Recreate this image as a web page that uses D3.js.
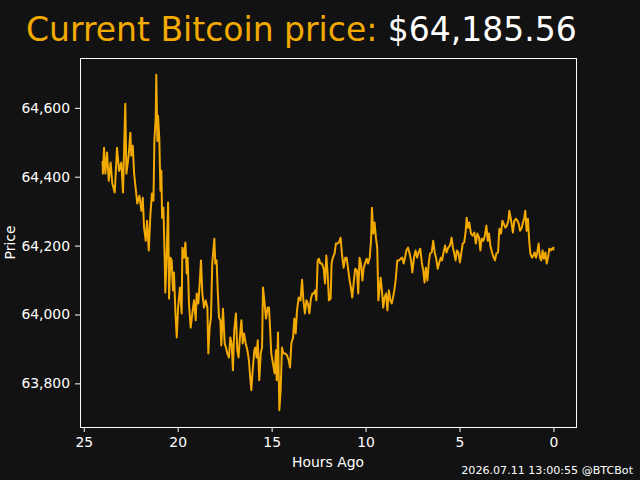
<!DOCTYPE html>
<html>
<head>
<meta charset="utf-8">
<script src="https://cdn.jsdelivr.net/npm/d3@7"></script>
<style>
  body{margin:0;background:#121212;}
  svg{display:block;font-family:"DejaVu Sans",sans-serif;}
</style>
</head>
<body>
<svg id="chart" width="640" height="480"></svg>
<script>
//data-------------------------------------------
var currentPrice='$64,185.56';
var stamp='2026.07.11 13:00:55 @BTCBot';
var xTicks=[25,20,15,10,5,0];
var yTicks=[63800,64000,64200,64400,64600];

var hoursAgo=[
  24.00,23.98,23.92,23.85,23.76,23.67,23.57,23.48,23.35,23.23,23.12,23.00,22.91,22.79,22.73,22.61,22.52,22.47,22.39,22.32,
  22.24,22.15,22.04,21.93,21.86,21.79,21.70,21.63,21.54,21.45,21.37,21.29,21.24,21.17,21.14,21.08,21.05,20.98,20.92,20.87,
  20.83,20.76,20.73,20.69,20.66,20.59,20.51,20.46,20.39,20.32,20.25,20.20,20.12,20.05,19.98,
  19.88,19.79,19.75,19.665,19.59,19.52,19.47,19.40,19.31,19.22,19.13,19.04,18.99,18.90,18.83,18.76,18.69,18.60,18.51,18.42,
  18.37,18.30,18.23,18.16,18.05,18.00,17.93,17.87,17.80,17.73,17.68,17.59,17.50,17.43,17.36,17.27,17.20,17.13,17.06,16.99,
  16.90,16.83,16.76,16.69,16.61,16.54,16.47,16.38,16.29,16.21,16.13,16.08,16.01,15.92,
  15.87,15.80,15.74,15.66,15.58,15.51,15.46,15.39,15.30,15.21,15.14,15.07,15.02,14.93,14.84,14.77,14.73,14.66,14.59,14.52,
  14.45,14.38,14.27,14.18,14.09,14.02,13.95,13.86,13.79,13.72,13.65,13.56,13.46,13.38,13.31,13.23,13.15,13.07,12.99,12.91,
  12.83,12.75,12.68,12.62,12.55,12.48,12.41,12.32,12.23,12.16,12.09,12.02,11.95,11.86,11.81,
  11.74,11.65,11.58,11.49,11.42,11.33,11.26,11.17,11.08,11.01,10.92,10.85,10.78,10.71,10.62,10.55,10.46,10.39,10.32,10.25,
  10.17,10.10,10.03,9.94,9.87,9.78,9.71,9.66,9.59,9.52,9.45,9.38,9.32,9.25,9.20,9.13,9.06,8.99,8.91,8.84,
  8.76,8.68,8.61,8.54,8.47,8.40,8.31,8.22,8.13,8.05,7.97,7.90,7.83,7.74,
  7.67,7.58,7.51,7.42,7.34,7.26,7.18,7.09,7.00,6.93,6.86,6.79,6.71,6.64,6.57,6.48,6.40,6.32,6.25,6.16,
  6.09,6.00,5.93,5.85,5.77,5.69,5.60,5.51,5.42,5.35,5.28,5.21,5.14,5.06,4.98,4.91,4.83,4.75,4.67,4.62,
  4.55,4.48,4.39,4.30,4.21,4.13,4.05,3.96,3.89,3.82,3.73,3.65,
  3.57,3.50,3.43,3.36,3.27,3.18,3.11,3.04,2.95,2.88,2.79,2.72,2.65,2.56,2.48,2.40,2.35,2.28,2.21,2.16,
  2.08,1.99,1.92,1.85,1.78,1.69,1.62,1.55,1.50,1.43,1.36,1.29,1.23,1.14,1.07,1.00,0.93,0.86,0.79,0.72,
  0.65,0.58,0.51,0.43,0.36,0.29,0.22,0.15,0.08,0.01,0.00
];
var prices=[
  64446,64409,64484,64409,64470,64388,64441,64380,64354,64484,64417,64441,64354,64612,64409,64461,64528,64461,64490,64409,
  64368,64322,64345,64301,64339,64252,64214,64272,64186,64293,64351,64330,64504,64571,64696,64504,64577,64513,64359,64417,
  64281,64310,64243,64157,64064,64165,64325,64046,64165,64157,64070,64122,64003,63933,64020,
  64078,64003,64194,64165,64209,64119,64165,64032,63962,64003,64041,63983,64061,64032,64090,64157,64061,64020,64041,64020,
  63887,63962,63991,64148,64220,64148,64157,64070,63991,63983,63910,64017,63916,63904,63887,63875,63933,63916,63838,63954,
  64003,63896,63875,63933,63983,63916,63945,63916,63896,63867,63809,63780,63838,63896,
  63904,63875,63925,63809,63887,63904,64078,64041,63988,64020,64020,63945,63887,63858,63829,63896,63809,63948,63722,63780,
  63904,63887,63887,63881,63867,63846,63916,63933,63988,63945,64012,64049,64041,64101,64041,64003,64041,64032,64003,64046,
  64061,64061,64070,64041,64157,64162,64148,64148,64133,64090,64171,64119,64041,64046,64148,
  64165,64177,64206,64206,64209,64223,64177,64136,64165,64165,64128,64099,64078,64049,64099,64133,64128,64061,64165,64148,
  64099,64136,64148,64162,64148,64165,64214,64310,64235,64267,64223,64194,64041,64078,64107,64070,64020,64049,64061,64012,
  64070,64041,64032,64049,64070,64099,64157,64157,64162,64165,64148,64165,64186,64194,
  64180,64157,64122,64165,64186,64165,64180,64191,64148,64128,64093,64136,64099,64148,64177,64180,64214,64180,64165,64133,
  64148,64165,64157,64180,64200,64180,64194,64200,64223,64194,64177,64157,64186,64180,64151,64177,64206,64209,64243,64281,
  64252,64267,64235,64229,64238,64206,64235,64223,64186,64220,64214,64229,
  64258,64214,64235,64200,64180,64165,64157,64177,64180,64249,64235,64272,64264,64252,64258,64272,64301,64281,64258,64238,
  64272,64278,64272,64264,64243,64252,64267,64281,64301,64243,64278,64214,64177,64165,64171,64180,64165,64180,64206,64165,
  64157,64186,64162,64180,64148,64165,64191,64186,64191,64194,64186
];

//layout-----------------------------------------
var bg='#121212';
var orange='#f2a900';
var fg='#ffffff';
var margin={left:80,right:64,top:58,bottom:53};
var W=640,H=480;
var pw=W-margin.left-margin.right;
var ph=H-margin.top-margin.bottom;

var svg=d3.select('#chart');
svg.append('rect').attr('width',W).attr('height',H).attr('fill',bg);

var points=hoursAgo.map((h,i)=>({h:h,p:prices[i]}));

//matplotlib style 5% margins
var hx=d3.extent(hoursAgo), py=d3.extent(prices);
var hpad=(hx[1]-hx[0])*0.05, ppad=(py[1]-py[0])*0.05;

var x=d3.scaleLinear()
  .domain([hx[1]+hpad,hx[0]-hpad])
  .range([0,pw]);
var y=d3.scaleLinear()
  .domain([py[0]-ppad,py[1]+ppad])
  .range([ph,0]);

var g=svg.append('g').attr('transform','translate('+margin.left+','+margin.top+')');

var line=d3.line().x(d=>x(d.h)).y(d=>y(d.p));
g.append('path')
  .datum(points)
  .attr('fill','none')
  .attr('stroke',orange)
  .attr('stroke-width',2)
  .attr('stroke-linejoin','round')
  .attr('d',line);

var xAxis=g.append('g')
  .attr('transform','translate(0,'+ph+')')
  .call(d3.axisBottom(x).tickValues(xTicks).tickFormat(d3.format('d')).tickSize(5).tickPadding(5));
var yAxis=g.append('g')
  .call(d3.axisLeft(y).tickValues(yTicks).tickFormat(d3.format(',')).tickSize(5).tickPadding(5));

[xAxis,yAxis].forEach(a=>{
  a.select('.domain').remove();
  a.selectAll('line').attr('stroke',fg).attr('stroke-width',1);
  a.selectAll('text').attr('fill',fg).style('font-size','13.9px').style('font-family','DejaVu Sans');
});

g.append('rect')
  .attr('x',0.5).attr('y',0.5)
  .attr('width',pw).attr('height',ph)
  .attr('fill','none').attr('stroke',fg).attr('stroke-width',1);

//labels
svg.append('text')
  .attr('x',margin.left+pw/2).attr('y',467)
  .attr('text-anchor','middle').attr('fill',fg)
  .style('font-size','13.9px')
  .text('Hours Ago');
svg.append('text')
  .attr('transform','translate(15,'+(margin.top+ph/2)+') rotate(-90)')
  .attr('text-anchor','middle').attr('fill',fg)
  .style('font-size','13.9px')
  .text('Price');

var title=svg.append('text')
  .attr('x',26).attr('y',41)
  .style('font-size','33px');
title.append('tspan').attr('fill',orange).text('Current Bitcoin price: ');
title.append('tspan').attr('fill',fg).text(currentPrice);

svg.append('text')
  .attr('x',633).attr('y',474)
  .attr('text-anchor','end').attr('fill',fg)
  .style('font-size','11.1px')
  .text(stamp);
</script>
</body>
</html>
